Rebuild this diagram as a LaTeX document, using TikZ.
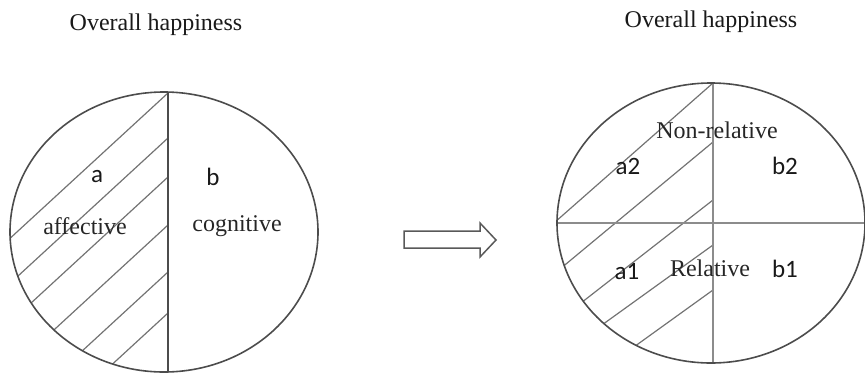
\documentclass[tikz,border=0pt]{standalone}
\usepackage{fontspec}
\setmainfont{Liberation Serif}
\newfontfamily\labelfont{Carlito}
\begin{document}
\begin{tikzpicture}[x=1pt,y=-1pt,
  rim/.style={draw=black!70,line width=1.6pt},
  divider/.style={draw=black!70,line width=1.6pt},
  gridline/.style={draw=black!45,line width=1.3pt},
  hatch/.style={draw=black!55,line width=1.2pt},
  title/.style={font=\fontsize{24}{28}\selectfont,text=black!90},
  word/.style={font=\fontsize{24}{28}\selectfont,text=black!85},
  tag/.style={font=\labelfont\fontsize{25}{29}\selectfont,text=black!90},
  bigarrow/.style={draw=black!65,line width=1.5pt,fill=white}]
\useasboundingbox (0,0) rectangle (865,373);

% ---- left: overall happiness split into two parts ----
\node[title] (t1) at (156,25) {Overall happiness};
\coordinate (c1) at (164,232);
\coordinate (top1) at (168,92);
\coordinate (bot1) at (168,372);
\begin{scope}
  \clip (c1) ellipse [x radius=154, y radius=140];
  \clip (0,0) rectangle (168,373);
  \foreach \y in {93,138,177,225,272,313}
    \draw[hatch] (168,\y) -- ++(-300,276);
\end{scope}
\draw[rim] (c1) ellipse [x radius=154, y radius=140];
\draw[divider] (top1) -- (bot1);
\node[tag] (a) at (97,177) {a};
\node[tag] (b) at (213,177) {b};
\node[word] (aff) at (85,226) {affective};
\node[word] (cog) at (237,226) {cognitive};

% ---- transition arrow ----
\draw[bigarrow] (404,231) -- (480,231) -- (480,223) -- (496,240) -- (480,257)
  -- (480,248) -- (404,248) -- cycle;

% ---- right: four-way split ----
\node[title] (t2) at (711,22) {Overall happiness};
\coordinate (c2) at (711,223);
\begin{scope}
  \clip (c2) ellipse [x radius=154, y radius=140];
  \clip (0,0) rectangle (713,373);
  \draw[hatch] (713,83) -- ++(-300,264);
  \draw[hatch] (713,142) -- ++(-300,249);
  \draw[hatch] (713,200) -- ++(-300,234);
  \draw[hatch] (713,245) -- ++(-300,216);
  \draw[hatch] (713,290) -- ++(-300,216);
\end{scope}
\begin{scope}
  \clip (c2) ellipse [x radius=154, y radius=140];
  \draw[gridline] (713,83) -- (713,363);
  \draw[gridline] (557,223) -- (865,223);
\end{scope}
\draw[rim] (c2) ellipse [x radius=154, y radius=140];
\node[word] (nonrel) at (717,130) {Non-relative};
\node[word] (rel) at (710,268) {Relative};
\node[tag] (a2) at (628,166) {a2};
\node[tag] (b2) at (785,166) {b2};
\node[tag] (a1) at (627,272) {a1};
\node[tag] (b1) at (785,269) {b1};
\end{tikzpicture}
\end{document}
